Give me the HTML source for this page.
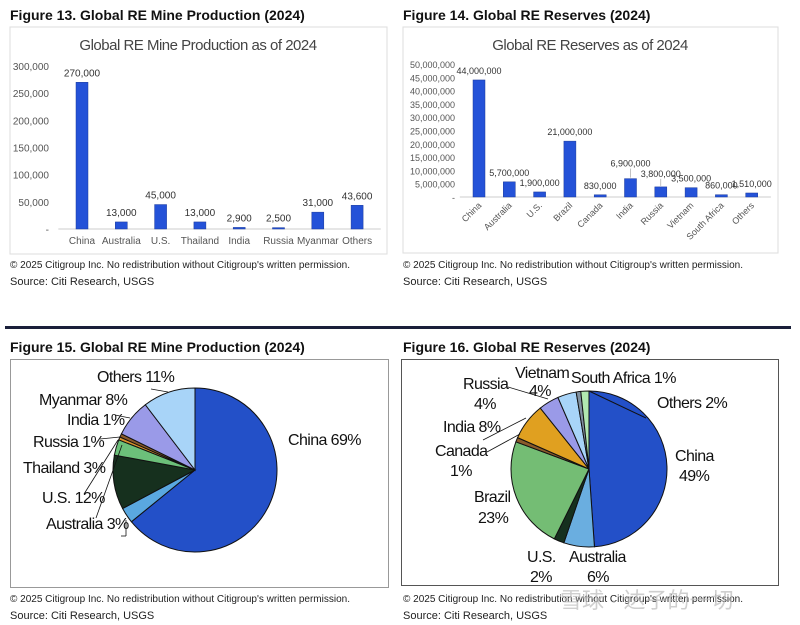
<!DOCTYPE html>
<html><head><meta charset="utf-8">
<style>
body{margin:0;width:800px;height:625px;background:#fff;overflow:hidden;font-family:"Liberation Sans",sans-serif;}
svg{position:absolute;left:0;top:0}
</style></head>
<body>
<svg id="s" width="800" height="625">
<g font-family="Liberation Sans, sans-serif" fill="#111">
<text x="10" y="20" font-size="14" font-weight="bold">Figure 13. Global RE Mine Production (2024)</text>
<text x="403" y="20" font-size="14" font-weight="bold">Figure 14. Global RE Reserves (2024)</text>
<text x="10" y="352" font-size="14" font-weight="bold">Figure 15. Global RE Mine Production (2024)</text>
<text x="403" y="352" font-size="14" font-weight="bold">Figure 16. Global RE Reserves (2024)</text>
</g>
<rect x="10" y="27" width="377" height="227" fill="none" stroke="#ddd"/>
<rect x="403" y="27" width="375" height="226" fill="none" stroke="#ddd"/>
<rect x="10.5" y="359.5" width="378" height="228" fill="none" stroke="#999"/>
<rect x="401.5" y="359.5" width="377" height="226" fill="none" stroke="#555"/>
<text x="198" y="50" font-size="15" fill="#444" text-anchor="middle" letter-spacing="-0.5">Global RE Mine Production as of 2024</text>
<text x="590" y="50" font-size="15" fill="#444" text-anchor="middle" letter-spacing="-0.5">Global RE Reserves as of 2024</text>
<rect x="5" y="326" width="786" height="3" fill="#1a1f3a"/>
<g font-size="10" fill="#222">
<text x="10" y="268">© 2025 Citigroup Inc. No redistribution without Citigroup's written permission.</text>
<text x="10" y="285" font-size="11">Source: Citi Research, USGS</text>
<text x="403" y="268">© 2025 Citigroup Inc. No redistribution without Citigroup's written permission.</text>
<text x="403" y="285" font-size="11">Source: Citi Research, USGS</text>
<text x="10" y="602">© 2025 Citigroup Inc. No redistribution without Citigroup's written permission.</text>
<text x="10" y="619" font-size="11">Source: Citi Research, USGS</text>
<text x="403" y="602">© 2025 Citigroup Inc. No redistribution without Citigroup's written permission.</text>
<text x="403" y="619" font-size="11">Source: Citi Research, USGS</text>
</g>
<text x="560" y="608" font-size="22" fill="#bbb" opacity="0.7" font-family="Liberation Sans, Noto Sans CJK SC, sans-serif">雪球 · 达子的一切</text>
</svg>
<script>
const prodCats=["China","Australia","U.S.","Thailand","India","Russia","Myanmar","Others"];
const prodVals=[270000,13000,45000,13000,2900,2500,31000,43600];
const prodTicks=[0,50000,100000,150000,200000,250000,300000];
const resCats=["China","Australia","U.S.","Brazil","Canada","India","Russia","Vietnam","South Africa","Others"];
const resVals=[44000000,5700000,1900000,21000000,830000,6900000,3800000,3500000,860000,1510000];
const resTicks=[0,5e6,10e6,15e6,20e6,25e6,30e6,35e6,40e6,45e6,50e6];
const pieProdCats=["China","Australia","U.S.","Thailand","Russia","India","Myanmar","Others"];
const pieProdVals=[270000,13000,45000,13000,2500,2900,31000,43600];
const pieResCats=["China","Australia","U.S.","Brazil","Canada","India","Russia","Vietnam","South Africa","Others"];
const pieResVals=[44000000,5700000,1900000,21000000,830000,6900000,3800000,3500000,860000,1510000];

const NS="http://www.w3.org/2000/svg",svg=document.getElementById('s');
function mk(t,a,txt){const e=document.createElementNS(NS,t);for(const k in a)e.setAttribute(k,a[k]);if(txt!=null)e.textContent=txt;svg.appendChild(e);return e;}
const fmt=v=>v===0?"-":v.toLocaleString('en-US');

function bars(cats,vals,ticks,x0,step,base,top,maxV,labX,rot,nm,fs,lift){
  const y=v=>base-(v/maxV)*(base-top);
  ticks.forEach(t=>{const e=mk('text',{x:labX,y:y(t)+4,'font-size':fs,fill:'#555','text-anchor':'end'},fmt(t));
    });
  const ax=mk('line',{x1:x0-step/2-4,x2:x0+step*(cats.length-0.5)+4,y1:base,y2:base,stroke:'#ccc'});
  
  cats.forEach((c,i)=>{const cx=x0+i*step,v=vals[i];
    const b=mk('rect',{x:cx-6,y:y(v),width:12,height:base-y(v),fill:'#2452d8',stroke:'#1a3a9a','stroke-width':0.5});
    
    const up=(lift&&lift[i])||0;
    const l=mk('text',{x:cx,y:y(v)-6-up,'font-size':fs,fill:'#333','text-anchor':'middle'},fmt(v));
    
    if(up){const ln=mk('line',{x1:cx,x2:cx,y1:y(v)-4-up,y2:y(v)-1,stroke:'#999','stroke-width':0.6});
      }
    let t;
    if(rot){t=mk('text',{x:cx+3,y:base+9,'font-size':9,fill:'#555','text-anchor':'end',transform:`rotate(-45 ${cx+3} ${base+9})`},c);}
    else t=mk('text',{x:cx,y:base+15,'font-size':10,fill:'#555','text-anchor':'middle'},c);
    
  });
}
bars(prodCats,prodVals,prodTicks,82,39.3,229,66,300000,49,false,'chart13',10,null);
bars(resCats,resVals,resTicks,479,30.3,197,64,50000000,455,true,'chart14',9,[0,0,0,0,0,6,4,0,0,0]);

function pie(cats,vals,colors,cx,cy,r,nm){
  const tot=vals.reduce((a,b)=>a+b,0);let a=-Math.PI/2;
  cats.forEach((c,i)=>{const a2=a+vals[i]/tot*2*Math.PI;
    const x1=cx+r*Math.cos(a),y1=cy+r*Math.sin(a),x2=cx+r*Math.cos(a2),y2=cy+r*Math.sin(a2);
    const lg=(a2-a)>Math.PI?1:0;
    const p=mk('path',{d:`M${cx},${cy}L${x1},${y1}A${r},${r} 0 ${lg} 1 ${x2},${y2}Z`,fill:colors[i],stroke:'#111','stroke-width':1});
    
    a=a2;});
}
pie(pieProdCats,pieProdVals,['#2350c8','#5aa8e0','#16301e','#6cc07a','#d9902a','#8a5a2a','#9a9ae8','#a8d4f8'],195,470,82,'chart15');
pie(pieResCats,pieResVals,['#2350c8','#6aaee0','#16301e','#74bd74','#8a5a2a','#e0a020','#9a9ae8','#a8d4f8','#8090a0','#b0e8b0'],589,469,78,'chart16');
mk('line',{x1:589,y1:391,x2:646,y2:418,stroke:'#111'});

function lab(x,y,t,nm){const e=mk('text',{x:x,y:y,'font-size':16,fill:'#111','letter-spacing':'-0.6'},t);
  }
const L15=[[288,445,"China  69%"],[97,382,"Others 11%"],[39,405,"Myanmar 8%"],[67,425,"India 1%"],[33,447,"Russia 1%"],[23,473,"Thailand 3%"],[42,503,"U.S. 12%"],[46,529,"Australia 3%"]];
L15.forEach(l=>lab(l[0],l[1],l[2],'chart15-label'));
const L16=[[515,378,"Vietnam"],[529,396,"4%"],[571,383,"South Africa 1%"],[463,389,"Russia"],[474,409,"4%"],[443,432,"India 8%"],[435,456,"Canada"],[450,476,"1%"],[657,408,"Others 2%"],[675,461,"China"],[679,481,"49%"],[474,502,"Brazil"],[478,523,"23%"],[527,562,"U.S."],[530,582,"2%"],[569,562,"Australia"],[587,582,"6%"]];
L16.forEach(l=>lab(l[0],l[1],l[2],'chart16-label'));
[[151,389,168,392],[115,415,130,418],[100,439,120,437],[84,494,118,440],[96,518,122,445],[121,536,126,536],[126,536,126,520],[508,387,548,399],[483,440,526,418],[487,452,520,434]].forEach(q=>{
  const e=mk('line',{x1:q[0],y1:q[1],x2:q[2],y2:q[3],stroke:'#111','stroke-width':0.8});
  });
</script>
</body></html>
